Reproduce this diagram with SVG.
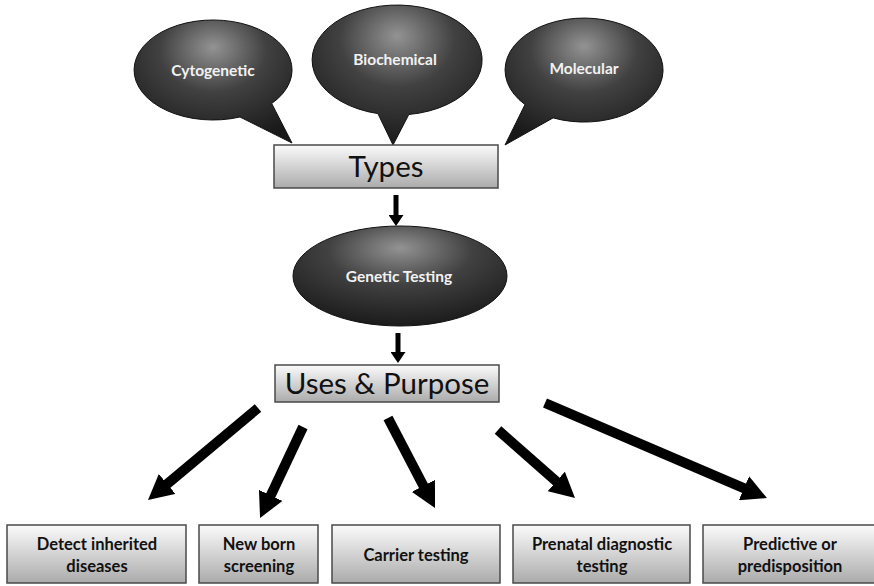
<svg xmlns="http://www.w3.org/2000/svg" width="874" height="586" viewBox="0 0 874 586">
<defs>
<radialGradient id="dark" cx="0.5" cy="0.28" r="0.75" fx="0.5" fy="0.22">
<stop offset="0" stop-color="#939393"/>
<stop offset="0.45" stop-color="#414141"/>
<stop offset="1" stop-color="#181818"/>
</radialGradient>
<linearGradient id="box" x1="0" y1="0" x2="0" y2="1">
<stop offset="0" stop-color="#fbfbfb"/>
<stop offset="1" stop-color="#ababab"/>
</linearGradient>
<marker id="big" markerUnits="userSpaceOnUse" markerWidth="25" markerHeight="26" viewBox="0 0 25 26" refX="1" refY="13" orient="auto">
<path d="M0,0 L25,13 L0,26 Z" fill="#000"/>
</marker>
<marker id="small" markerUnits="userSpaceOnUse" markerWidth="11" markerHeight="15" viewBox="0 0 11 15" refX="1" refY="7.5" orient="auto">
<path d="M0,0 L11,7.5 L0,15 Z" fill="#000"/>
</marker>
</defs>
<style>
.bubble{fill:url(#dark);stroke:#111;stroke-width:1}
.box{fill:url(#box);stroke:#4a4a4a;stroke-width:1.5}
.wl{font-family:Lato,"Open Sans",sans-serif;font-weight:bold;font-size:15.5px;fill:#f2f2f2;text-anchor:middle}
.big{font-family:Lato,"Open Sans",sans-serif;font-size:29.5px;fill:#111;text-anchor:middle}
.bl{font-family:Lato,"Open Sans",sans-serif;font-weight:bold;font-size:16.5px;fill:#111;text-anchor:middle}
.arr{stroke:#000;stroke-width:10;fill:none;marker-end:url(#big)}
.sarr{stroke:#000;stroke-width:5;fill:none;marker-end:url(#small)}
</style>
<rect width="874" height="586" fill="#fff"/>

<g id="cytogenetic">
<path class="bubble" d="M271.7,103.5 A79 50 0 1 0 240,117 L292,143 Z"/>
<text class="wl" x="213" y="76">Cytogenetic</text>
</g>
<g id="biochemical">
<path class="bubble" d="M408.8,114.5 A85 55 0 1 0 377.9,113.6 L393,145 Z"/>
<text class="wl" x="395" y="65">Biochemical</text>
</g>
<g id="molecular">
<path class="bubble" d="M553.1,117.9 A79 52 0 1 0 525,104.6 L505,145 Z"/>
<text class="wl" x="584" y="74">Molecular</text>
</g>

<g id="types">
<rect class="box" x="274" y="145" width="224" height="43"/>
<text class="big" x="386" y="177">Types</text>
</g>

<g id="genetic-testing">
<ellipse class="bubble" cx="400" cy="276" rx="107" ry="50"/>
<text class="wl" x="399" y="282">Genetic Testing</text>
</g>

<g id="uses">
<rect class="box" x="275" y="365" width="224" height="37"/>
<text class="big" x="387" y="394">Uses &amp; Purpose</text>
</g>

<g id="detect">
<rect class="box" x="7" y="525" width="179" height="58"/>
<text class="bl" x="97" y="550">Detect inherited</text>
<text class="bl" x="97" y="572">diseases</text>
</g>
<g id="newborn">
<rect class="box" x="199" y="525" width="119" height="58"/>
<text class="bl" x="259" y="550">New born</text>
<text class="bl" x="259" y="572">screening</text>
</g>
<g id="carrier">
<rect class="box" x="332" y="525" width="168" height="58"/>
<text class="bl" x="416" y="561">Carrier testing</text>
</g>
<g id="prenatal">
<rect class="box" x="513" y="525" width="177" height="58"/>
<text class="bl" x="602" y="550">Prenatal diagnostic</text>
<text class="bl" x="602" y="572">testing</text>
</g>
<g id="predictive">
<rect class="box" x="703" y="525" width="172" height="58"/>
<text class="bl" x="790" y="550">Predictive or</text>
<text class="bl" x="790" y="572">predisposition</text>
</g>

<g id="connectors">
<line class="sarr" x1="396" y1="195" x2="396" y2="216"/>
<line class="sarr" x1="398" y1="333" x2="398" y2="353"/>
<line class="arr" x1="258" y1="408" x2="166.4" y2="484.6"/>
<line class="arr" x1="303" y1="427" x2="270.3" y2="496.3"/>
<line class="arr" x1="388" y1="418" x2="423.9" y2="486.7"/>
<line class="arr" x1="498" y1="430" x2="557" y2="482.1"/>
<line class="arr" x1="545" y1="403" x2="744.9" y2="488.6"/>
</g>
</svg>
